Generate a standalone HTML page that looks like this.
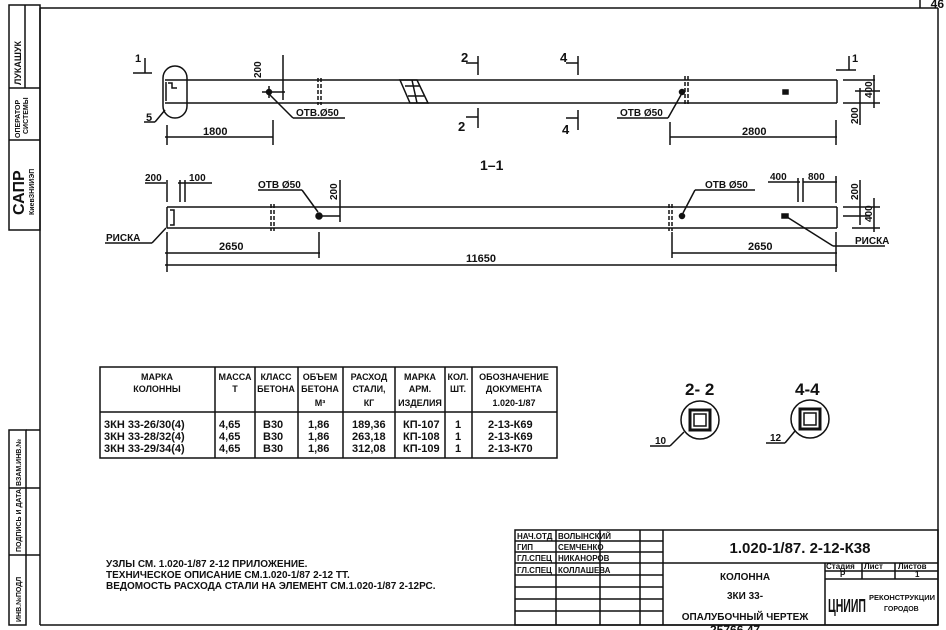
<!DOCTYPE html>
<html><head><meta charset="utf-8"><style>
html,body{margin:0;padding:0;background:#fff;}
svg{display:block}
text{font-family:"Liberation Sans Narrow","Liberation Sans",sans-serif;fill:#111;font-weight:bold}
</style></head><body>
<svg width="946" height="630" viewBox="0 0 946 630" xmlns="http://www.w3.org/2000/svg">
<g stroke="#111" fill="none" stroke-width="1.5">
<line x1="40" y1="8" x2="938" y2="8"/>
<line x1="40" y1="8" x2="40" y2="625"/>
<line x1="938" y1="8" x2="938" y2="625"/>
<line x1="40" y1="625" x2="938" y2="625"/>
<polyline points="920,0 920,8"/>
<rect x="9" y="5" width="31" height="225"/>
<line x1="9" y1="88" x2="40" y2="88"/><line x1="9" y1="140" x2="40" y2="140"/>
<line x1="25" y1="5" x2="25" y2="88"/>
<rect x="9" y="430" width="17" height="195"/>
<line x1="26" y1="430" x2="40" y2="430"/>
<line x1="9" y1="488" x2="40" y2="488"/><line x1="9" y1="555" x2="40" y2="555"/>
</g>
<text x="944" y="8" font-size="12" text-anchor="end">46</text>
<text transform="translate(21,85) rotate(-90)" font-size="9">ЛУКАШУК</text>
<text transform="translate(20,138) rotate(-90)" font-size="7">ОПЕРАТОР</text>
<text transform="translate(28,134) rotate(-90)" font-size="7">СИСТЕМЫ</text>
<text transform="translate(24,215) rotate(-90)" font-size="16" font-weight="normal">САПР</text>
<text transform="translate(34,215) rotate(-90)" font-size="7">КиевЗНИИЭП</text>
<text transform="translate(21,622) rotate(-90)" font-size="7">ИНВ.№ПОДЛ</text>
<text transform="translate(21,552) rotate(-90)" font-size="7">ПОДПИСЬ И ДАТА</text>
<text transform="translate(21,486) rotate(-90)" font-size="7">ВЗАМ.ИНВ.№</text>

<g stroke="#111" fill="none" stroke-width="1.5">
<line x1="165" y1="80" x2="837" y2="80"/>
<line x1="165" y1="103" x2="837" y2="103"/>
<line x1="837" y1="80" x2="837" y2="103"/>
<line x1="166" y1="82" x2="166" y2="101"/>
<rect x="163" y="66" width="24" height="52" rx="12"/>
<polyline points="168,83 172,83 172,88 177,88 M168,100 172,100 172,95 177,95" />
<line x1="318" y1="78" x2="318" y2="105" stroke-dasharray="4,2"/><line x1="321" y1="78" x2="321" y2="105" stroke-dasharray="4,2"/>
<line x1="685" y1="76" x2="685" y2="106" stroke-dasharray="4,2"/><line x1="688" y1="76" x2="688" y2="106" stroke-dasharray="4,2"/>
<polygon points="400,80 417,80 428,103 410,103"/>
<line x1="405" y1="86" x2="420" y2="86"/><line x1="408" y1="96" x2="424" y2="96"/>
<line x1="412" y1="80" x2="417" y2="103"/>
<circle cx="269" cy="92" r="2.5" fill="#111"/>
<line x1="262" y1="92" x2="285" y2="92"/><line x1="269" y1="86" x2="269" y2="98"/>
<line x1="270" y1="95" x2="293" y2="118"/><line x1="293" y1="118" x2="345" y2="118"/>
<line x1="283" y1="55" x2="283" y2="100"/>
<circle cx="682" cy="92" r="2.5" fill="#111"/>
<line x1="681" y1="95" x2="668" y2="118"/><line x1="668" y1="118" x2="617" y2="118"/>
<rect x="783" y="90" width="5" height="4" fill="#111"/>
<line x1="478" y1="56" x2="478" y2="75"/><line x1="466" y1="63" x2="478" y2="63"/>
<line x1="478" y1="108" x2="478" y2="128"/><line x1="466" y1="117" x2="478" y2="117"/>
<line x1="578" y1="56" x2="578" y2="75"/><line x1="566" y1="63" x2="578" y2="63"/>
<line x1="578" y1="110" x2="578" y2="130"/><line x1="566" y1="118" x2="578" y2="118"/>
<line x1="133" y1="73" x2="152" y2="73"/><line x1="145" y1="58" x2="145" y2="73"/>
<line x1="836" y1="70" x2="856" y2="70"/><line x1="849" y1="56" x2="849" y2="70"/>
<line x1="165" y1="110" x2="155" y2="122"/><line x1="155" y1="122" x2="144" y2="122"/>
<line x1="165" y1="137" x2="273" y2="137"/><line x1="167" y1="125" x2="167" y2="145"/><line x1="273" y1="120" x2="273" y2="145"/>
<line x1="670" y1="137" x2="837" y2="137"/><line x1="670" y1="122" x2="670" y2="145"/><line x1="836" y1="120" x2="836" y2="145"/>
<line x1="843" y1="80" x2="875" y2="80"/><line x1="843" y1="103" x2="880" y2="103"/><line x1="855" y1="91" x2="880" y2="91"/>
<line x1="860" y1="88" x2="860" y2="125"/><line x1="874" y1="75" x2="874" y2="108"/>
<line x1="167" y1="207" x2="837" y2="207"/>
<line x1="167" y1="228" x2="837" y2="228"/>
<line x1="837" y1="207" x2="837" y2="228"/>
<line x1="167" y1="207" x2="167" y2="228"/>
<polyline points="170,210 174,210 174,225 170,225 M170,215 178,215"/>
<line x1="271" y1="204" x2="271" y2="231" stroke-dasharray="4,2"/><line x1="274" y1="204" x2="274" y2="231" stroke-dasharray="4,2"/>
<line x1="669" y1="204" x2="669" y2="231" stroke-dasharray="4,2"/><line x1="672" y1="204" x2="672" y2="231" stroke-dasharray="4,2"/>
<circle cx="319" cy="216" r="3" fill="#111"/>
<line x1="319" y1="216" x2="340" y2="216"/>
<line x1="318" y1="212" x2="302" y2="190"/><line x1="302" y1="190" x2="258" y2="190"/>
<line x1="340" y1="180" x2="340" y2="222"/>
<circle cx="682" cy="216" r="2.5" fill="#111"/>
<line x1="683" y1="213" x2="695" y2="190"/><line x1="695" y1="190" x2="755" y2="190"/>
<rect x="782" y="214" width="6" height="4" fill="#111"/>
<line x1="787" y1="217" x2="833" y2="246"/><line x1="833" y1="246" x2="885" y2="246"/>
<line x1="166" y1="228" x2="152" y2="243"/><line x1="152" y1="243" x2="105" y2="243"/>
<line x1="145" y1="183" x2="166" y2="183"/><line x1="167" y1="180" x2="167" y2="202"/>
<line x1="178" y1="183" x2="212" y2="183"/><line x1="180" y1="180" x2="180" y2="202"/><line x1="185" y1="180" x2="185" y2="202"/>
<line x1="768" y1="182" x2="800" y2="182"/><line x1="798" y1="178" x2="798" y2="202"/><line x1="803" y1="178" x2="803" y2="202"/>
<line x1="803" y1="182" x2="837" y2="182"/><line x1="836" y1="176" x2="836" y2="203"/>
<line x1="843" y1="207" x2="880" y2="207"/><line x1="843" y1="216" x2="870" y2="216"/><line x1="852" y1="228" x2="880" y2="228"/>
<line x1="860" y1="180" x2="860" y2="225"/><line x1="874" y1="198" x2="874" y2="232"/>
<line x1="165" y1="253" x2="320" y2="253"/><line x1="167" y1="232" x2="167" y2="272"/><line x1="319" y1="232" x2="319" y2="258"/>
<line x1="672" y1="253" x2="837" y2="253"/><line x1="672" y1="232" x2="672" y2="258"/><line x1="836" y1="232" x2="836" y2="272"/>
<line x1="165" y1="265" x2="837" y2="265"/>
<rect x="100" y="367" width="457" height="91"/>
<line x1="100" y1="412" x2="557" y2="412"/>
<line x1="215" y1="367" x2="215" y2="458"/><line x1="255" y1="367" x2="255" y2="458"/>
<line x1="298" y1="367" x2="298" y2="458"/><line x1="343" y1="367" x2="343" y2="458"/>
<line x1="395" y1="367" x2="395" y2="458"/><line x1="445" y1="367" x2="445" y2="458"/>
<line x1="472" y1="367" x2="472" y2="458"/>
<circle cx="700" cy="420" r="19"/><rect x="690" y="410" width="20" height="20" stroke-width="3"/><rect x="694" y="414" width="12" height="12"/>
<line x1="684" y1="432" x2="670" y2="446"/><line x1="670" y1="446" x2="650" y2="446"/>
<circle cx="810" cy="419" r="19"/><rect x="800" y="409" width="20" height="20" stroke-width="3"/><rect x="804" y="413" width="12" height="12"/>
<line x1="795" y1="431" x2="785" y2="443"/><line x1="785" y1="443" x2="766" y2="443"/>
<rect x="515" y="530" width="423" height="95"/>
<line x1="556" y1="530" x2="556" y2="625"/><line x1="600" y1="530" x2="600" y2="625"/>
<line x1="640" y1="530" x2="640" y2="625"/><line x1="663" y1="530" x2="663" y2="625"/>
<line x1="515" y1="541" x2="663" y2="541"/><line x1="515" y1="552" x2="663" y2="552"/>
<line x1="515" y1="563" x2="938" y2="563"/><line x1="515" y1="575" x2="663" y2="575"/>
<line x1="515" y1="587" x2="663" y2="587"/><line x1="515" y1="599" x2="663" y2="599"/>
<line x1="515" y1="611" x2="663" y2="611"/>
<line x1="825" y1="563" x2="825" y2="625"/><line x1="862" y1="563" x2="862" y2="579"/><line x1="895" y1="563" x2="895" y2="579"/>
<line x1="825" y1="571" x2="938" y2="571"/><line x1="825" y1="579" x2="938" y2="579"/>
</g>
<g font-size="11">
<text x="135" y="62">1</text><text x="852" y="62">1</text>
<text x="461" y="62" font-size="13">2</text><text x="458" y="131" font-size="13">2</text>
<text x="560" y="62" font-size="13">4</text><text x="562" y="134" font-size="13">4</text>
<text x="146" y="121">5</text>
<text transform="translate(261,78) rotate(-90)" font-size="10">200</text>
<text x="296" y="116" font-size="10">ОТВ.Ø50</text>
<text x="620" y="116" font-size="10">ОТВ Ø50</text>
<text x="203" y="135">1800</text><text x="742" y="135">2800</text>
<text transform="translate(872,98) rotate(-90)" font-size="10">400</text>
<text transform="translate(858,124) rotate(-90)" font-size="10">200</text>
<text x="480" y="170" font-size="14">1–1</text>
<text x="145" y="181" font-size="10">200</text><text x="189" y="181" font-size="10">100</text>
<text x="258" y="188" font-size="10">ОТВ Ø50</text>
<text transform="translate(337,200) rotate(-90)" font-size="10">200</text>
<text x="705" y="188" font-size="10">ОТВ Ø50</text>
<text x="770" y="180" font-size="10">400</text><text x="808" y="180" font-size="10">800</text>
<text transform="translate(858,200) rotate(-90)" font-size="10">200</text>
<text transform="translate(872,222) rotate(-90)" font-size="10">400</text>
<text x="106" y="241" font-size="10">РИСКА</text><text x="855" y="244" font-size="10">РИСКА</text>
<text x="219" y="250">2650</text><text x="748" y="250">2650</text>
<text x="466" y="262">11650</text>
</g>
<g font-size="9" text-anchor="middle">
<text x="157" y="380">МАРКА</text><text x="157" y="392">КОЛОННЫ</text>
<text x="235" y="380">МАССА</text><text x="235" y="392">Т</text>
<text x="276" y="380">КЛАСС</text><text x="276" y="392">БЕТОНА</text>
<text x="320" y="380">ОБЪЕМ</text><text x="320" y="392">БЕТОНА</text><text x="320" y="406">М³</text>
<text x="369" y="380">РАСХОД</text><text x="369" y="392">СТАЛИ,</text><text x="369" y="406">КГ</text>
<text x="420" y="380">МАРКА</text><text x="420" y="392">АРМ.</text><text x="420" y="406">ИЗДЕЛИЯ</text>
<text x="458" y="380">КОЛ.</text><text x="458" y="392">ШТ.</text>
<text x="514" y="380">ОБОЗНАЧЕНИЕ</text><text x="514" y="392">ДОКУМЕНТА</text><text x="514" y="406">1.020-1/87</text>
</g>
<g font-size="11" font-weight="normal">
<text x="104" y="428">3КН 33-26/30(4)</text><text x="104" y="440">3КН 33-28/32(4)</text><text x="104" y="452">3КН 33-29/34(4)</text>
<text x="219" y="428">4,65</text><text x="219" y="440">4,65</text><text x="219" y="452">4,65</text>
<text x="263" y="428">В30</text><text x="263" y="440">В30</text><text x="263" y="452">В30</text>
<text x="308" y="428">1,86</text><text x="308" y="440">1,86</text><text x="308" y="452">1,86</text>
<text x="352" y="428">189,36</text><text x="352" y="440">263,18</text><text x="352" y="452">312,08</text>
<text x="403" y="428">КП-107</text><text x="403" y="440">КП-108</text><text x="403" y="452">КП-109</text>
<text x="455" y="428">1</text><text x="455" y="440">1</text><text x="455" y="452">1</text>
<text x="488" y="428">2-13-К69</text><text x="488" y="440">2-13-К69</text><text x="488" y="452">2-13-К70</text>
</g>
<text x="685" y="395" font-size="17" font-weight="normal">2- 2</text>
<text x="795" y="395" font-size="17" font-weight="normal">4-4</text>
<text x="655" y="444" font-size="10">10</text><text x="770" y="441" font-size="10">12</text>
<g font-size="10">
<text x="106" y="567">УЗЛЫ СМ. 1.020-1/87 2-12 ПРИЛОЖЕНИЕ.</text>
<text x="106" y="578">ТЕХНИЧЕСКОЕ ОПИСАНИЕ СМ.1.020-1/87 2-12 ТТ.</text>
<text x="106" y="589">ВЕДОМОСТЬ РАСХОДА СТАЛИ НА ЭЛЕМЕНТ СМ.1.020-1/87 2-12РС.</text>
</g>
<g font-size="8">
<text x="517" y="539">НАЧ.ОТД</text><text x="558" y="539">ВОЛЫНСКИЙ</text>
<text x="517" y="550">ГИП</text><text x="558" y="550">СЕМЧЕНКО</text>
<text x="517" y="561">ГЛ.СПЕЦ</text><text x="558" y="561">НИКАНОРОВ</text>
<text x="517" y="573">ГЛ.СПЕЦ</text><text x="558" y="573">КОЛЛАШЕВА</text>
</g>
<text x="800" y="553" font-size="15" font-weight="normal" text-anchor="middle">1.020-1/87. 2-12-К38</text>
<text x="745" y="580" font-size="10" text-anchor="middle">КОЛОННА</text>
<text x="745" y="599" font-size="10" text-anchor="middle">3КИ 33-</text>
<text x="745" y="620" font-size="10" text-anchor="middle">ОПАЛУБОЧНЫЙ ЧЕРТЕЖ</text>
<g font-size="8"><text x="826" y="569">Стадия</text><text x="864" y="569">Лист</text><text x="898" y="569">Листов</text>
<text x="840" y="577">Р</text><text x="915" y="577">1</text></g>
<text x="828" y="612" font-size="18" font-weight="normal" textLength="38" lengthAdjust="spacingAndGlyphs">ЦНИИП</text>
<text x="869" y="600" font-size="7" textLength="66" lengthAdjust="spacingAndGlyphs">РЕКОНСТРУКЦИИ</text><text x="884" y="611" font-size="7">ГОРОДОВ</text>
<text x="710" y="634" font-size="12" font-weight="normal">25766    47</text>
</svg>
</body></html>
